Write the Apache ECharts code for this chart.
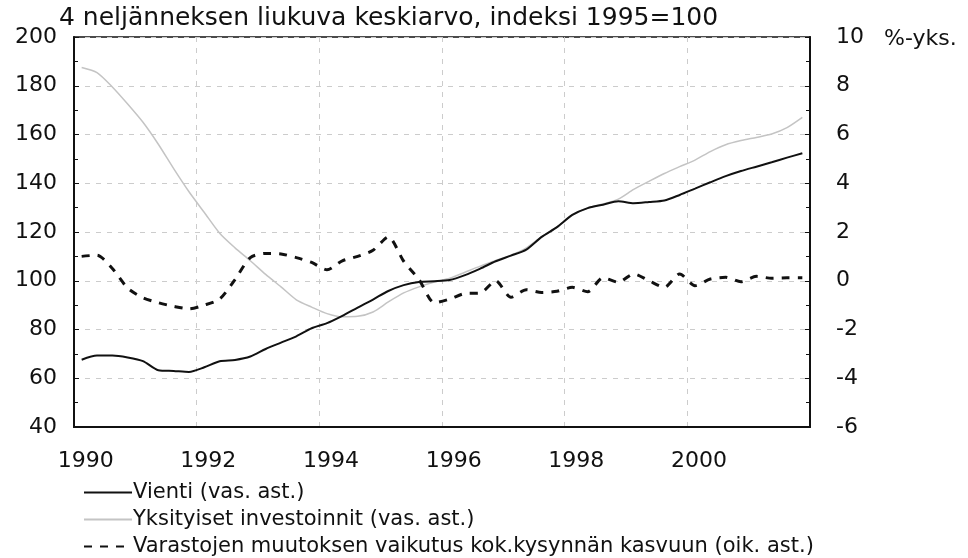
<!DOCTYPE html>
<html>
<head>
<meta charset="utf-8">
<script src="https://cdn.jsdelivr.net/npm/echarts@6/dist/echarts.min.js"></script>
<style>
  html, body { margin: 0; padding: 0; background: #fff; }
  #chart { width: 968px; height: 558px; }
</style>
</head>
<body>
<div id="chart"></div>
<script>
// neljännekset 1990Q1 ... 2001Q4
var quarters = [
  '1990Q1','1990Q2','1990Q3','1990Q4','1991Q1','1991Q2','1991Q3','1991Q4',
  '1992Q1','1992Q2','1992Q3','1992Q4','1993Q1','1993Q2','1993Q3','1993Q4',
  '1994Q1','1994Q2','1994Q3','1994Q4','1995Q1','1995Q2','1995Q3','1995Q4',
  '1996Q1','1996Q2','1996Q3','1996Q4','1997Q1','1997Q2','1997Q3','1997Q4',
  '1998Q1','1998Q2','1998Q3','1998Q4','1999Q1','1999Q2','1999Q3','1999Q4',
  '2000Q1','2000Q2','2000Q3','2000Q4','2001Q1','2001Q2','2001Q3','2001Q4'
];

// vasen asteikko, indeksi 1995=100
var vienti = [
  67.6, 69.3, 69.3, 68.5, 67.0, 63.3, 63.0, 62.6,
  64.5, 67.0, 67.5, 68.9, 72.0, 74.6, 77.2, 80.5,
  82.6, 85.6, 89.0, 92.3, 95.8, 98.2, 99.5, 99.8,
  100.3, 102.3, 105.0, 108.0, 110.3, 112.8, 118.0, 122.0,
  127.0, 129.8, 131.2, 132.6, 131.8, 132.3, 132.9, 135.2,
  137.8, 140.4, 142.9, 145.0, 146.8, 148.6, 150.5, 152.3
];
var investoinnit = [
  187.5, 185.4, 179.5, 172.5, 165.0, 156.0, 146.0, 136.5,
  128.0, 119.5, 113.5, 108.2, 102.6, 97.5, 92.2, 89.2,
  86.5, 85.2, 85.4, 87.2, 91.3, 95.0, 97.5, 99.5,
  101.0, 103.5, 106.0, 108.3, 110.5, 113.5, 118.0, 122.0,
  127.0, 129.8, 131.5, 133.5, 137.5, 140.8, 144.0, 146.8,
  149.5, 153.0, 155.8, 157.5, 158.8, 160.2, 162.8, 167.0
];
// oikea asteikko, %-yks.
var varastot = [
  1.0, 1.05, 0.5, -0.3, -0.7, -0.9, -1.05, -1.15,
  -1.0, -0.75, 0.05, 0.95, 1.12, 1.1, 0.95, 0.75,
  0.45, 0.82, 1.0, 1.25, 1.8, 0.8, 0.05, -0.9,
  -0.75, -0.52, -0.5, 0.0, -0.68, -0.37, -0.48, -0.43,
  -0.27, -0.45, 0.12, -0.06, 0.28, 0.0, -0.27, 0.28,
  -0.2, 0.07, 0.14, -0.04, 0.18, 0.1, 0.12, 0.12
];

var seriesNames = [
  'Vienti (vas. ast.)',
  'Yksityiset investoinnit (vas. ast.)',
  'Varastojen muutoksen vaikutus kok.kysynnän kasvuun (oik. ast.)'
];
var titleText = '4 neljänneksen liukuva keskiarvo, indeksi 1995=100';
var unitText = '%-yks.';

var font = 'DejaVu Sans';
var chart = echarts.init(document.getElementById('chart'));

var gridLine = { show: true, lineStyle: { color: '#cccccc', width: 1, type: [5, 6] } };

// yksi selite per rivi, jotta rivit eivät jakaudu sarakkeisiin
var legendTops = [477, 504, 531];
var legends = seriesNames.map(function (name, i) {
  return {
    orient: 'horizontal',
    left: 78,
    top: legendTops[i],
    itemWidth: 48,
    itemHeight: 14,
    itemStyle: { opacity: 0 },
    textStyle: { fontFamily: font, fontSize: 21, color: '#111', padding: [0, 0, 0, -4] },
    data: [name]
  };
});

var option = {
  animation: false,
  backgroundColor: '#fff',
  textStyle: { fontFamily: font, color: '#111' },
  title: {
    text: titleText,
    left: 54,
    top: 1,
    textStyle: { fontFamily: font, fontSize: 25, fontWeight: 'normal', color: '#111' }
  },
  graphic: [{
    type: 'text',
    left: 884,
    top: 28,
    style: { text: unitText, fontFamily: font, fontSize: 22, fill: '#111' }
  }],
  legend: legends,
  grid: {
    left: 74, right: 158, top: 37, bottom: 131,
    show: true, borderColor: '#111', borderWidth: 1.5
  },
  xAxis: {
    type: 'category',
    data: quarters,
    boundaryGap: true,
    axisLine: { onZero: false, lineStyle: { color: '#111', width: 2 } },
    axisTick: { inside: true, interval: 3, length: 5, lineStyle: { color: '#111' } },
    axisLabel: {
      interval: 7, margin: 23, fontSize: 22, fontFamily: font, color: '#111',
      padding: [0, 0, 0, 8],
      formatter: function (v) { return v.slice(0, 4); }
    },
    splitLine: { show: true, interval: 7, lineStyle: gridLine.lineStyle }
  },
  yAxis: [{
    type: 'value',
    min: 40, max: 200, interval: 20,
    axisLine: { show: true, lineStyle: { color: '#111', width: 2 } },
    axisTick: { show: true, inside: true, length: 5, lineStyle: { color: '#111' } },
    minorTick: { show: true, splitNumber: 2, length: 4, lineStyle: { color: '#111' } },
    axisLabel: { margin: 17, fontSize: 22, fontFamily: font, color: '#111' },
    splitLine: gridLine
  }, {
    type: 'value',
    min: -6, max: 10, interval: 2,
    axisLine: { show: true, lineStyle: { color: '#111', width: 2 } },
    axisTick: { show: true, inside: true, length: 5, lineStyle: { color: '#111' } },
    minorTick: { show: true, splitNumber: 2, length: 4, lineStyle: { color: '#111' } },
    axisLabel: { margin: 26, fontSize: 22, fontFamily: font, color: '#111', align: 'left' },
    splitLine: { show: false }
  }],
  series: [{
    name: seriesNames[0],
    type: 'line',
    data: vienti,
    yAxisIndex: 0,
    symbol: 'none',
    smooth: 0.25,
    z: 3,
    lineStyle: { color: '#111', width: 2 },
    itemStyle: { color: '#111' }
  }, {
    name: seriesNames[1],
    type: 'line',
    data: investoinnit,
    yAxisIndex: 0,
    symbol: 'none',
    smooth: 0.25,
    z: 2,
    lineStyle: { color: '#c4c4c4', width: 1.5 },
    itemStyle: { color: '#c4c4c4' }
  }, {
    name: seriesNames[2],
    type: 'line',
    data: varastot,
    yAxisIndex: 1,
    symbol: 'none',
    smooth: 0.25,
    z: 4,
    lineStyle: { color: '#111', width: 3, type: [8, 8] },
    itemStyle: { color: '#111' }
  }]
};

chart.setOption(option);
</script>
</body>
</html>
